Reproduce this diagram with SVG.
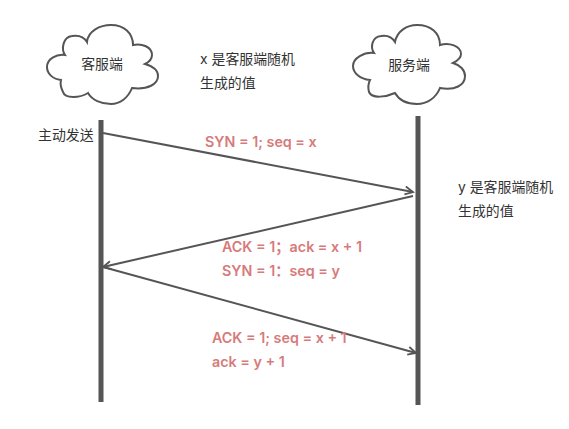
<svg xmlns="http://www.w3.org/2000/svg" width="569" height="429" viewBox="0 0 569 429">
<defs>
<marker id="arrow" markerUnits="userSpaceOnUse" markerWidth="14" markerHeight="14" refX="11" refY="7" orient="auto" viewBox="0 0 14 14">
<path d="M3 3 L11 7 L3 11" fill="none" stroke="#555" stroke-width="1.8"/>
</marker>
</defs>
<style>
text{font-family:"Inter","Noto Sans CJK SC",sans-serif}
.cloud{fill:#fff;stroke:#555;stroke-width:2}
.life{stroke:#555;stroke-width:5;fill:none}
.msg{stroke:#555;stroke-width:2;fill:none;marker-end:url(#arrow)}
.t{font-size:13.9px;fill:#333}
.r{font-size:14.3px;font-weight:600;fill:#d67b7b}
</style>
<g id="client">
<path class="cloud" d="M87 42 C88 31 100 25 111 25 C124 25 133 33 133 45 C142 43 152 47 152 55 C152 59 149 62 145 64 C152 66 158 70 158 76 C158 84 148 90 132 88 C128 98 120 104 111 104 C101 104 92 100 88 93 C80 98 65 99 63 92 C61 88 60 84 61 80 C52 79 47 73 47 67 C47 59 56 54 65 55 C61 49 63 37 72 36 C78 35 84 37 87 42 Z"/>
<text class="t" x="102" y="69" text-anchor="middle">客服端</text>
</g>
<g id="server">
<path class="cloud" d="M395 42 C397 31 407 25 417 25 C431 25 440 33 440 45 C449 42 461 46 461 54 C461 58 457 61 453 63 C460 65 465 70 465 76 C465 85 455 91 440 88 C436 98 427 104 417 104 C407 104 399 100 395 93 C386 97 372 99 369 92 C368 88 368 84 370 80 C360 79 353 73 353 66 C353 58 364 52 374 53 C370 47 372 37 381 36 C387 35 392 37 395 42 Z"/>
<text class="t" x="409" y="70" text-anchor="middle">服务端</text>
</g>
<g id="lifelines">
<line class="life" x1="101" y1="120" x2="101" y2="402"/>
<line class="life" x1="418" y1="116" x2="418" y2="405"/>
</g>
<g id="connectors">
<line class="msg" x1="103" y1="133" x2="413" y2="192"/>
<line class="msg" x1="413" y1="196" x2="103" y2="267"/>
<line class="msg" x1="103" y1="267" x2="416" y2="353"/>
</g>
<g id="labels">
<text class="t" x="200" y="64">x 是客服端随机</text>
<text class="t" x="200" y="88">生成的值</text>
<text class="t" x="38" y="140">主动发送</text>
<text class="t" x="458" y="192">y 是客服端随机</text>
<text class="t" x="458" y="216">生成的值</text>
<text class="r" x="205" y="147">SYN = 1; seq = x</text>
<text class="r" x="222" y="252">ACK = 1；ack = x + 1</text>
<text class="r" x="222" y="276">SYN = 1：seq = y</text>
<text class="r" x="212" y="343">ACK = 1; seq = x + 1</text>
<text class="r" x="212" y="367">ack = y + 1</text>
</g>
</svg>
